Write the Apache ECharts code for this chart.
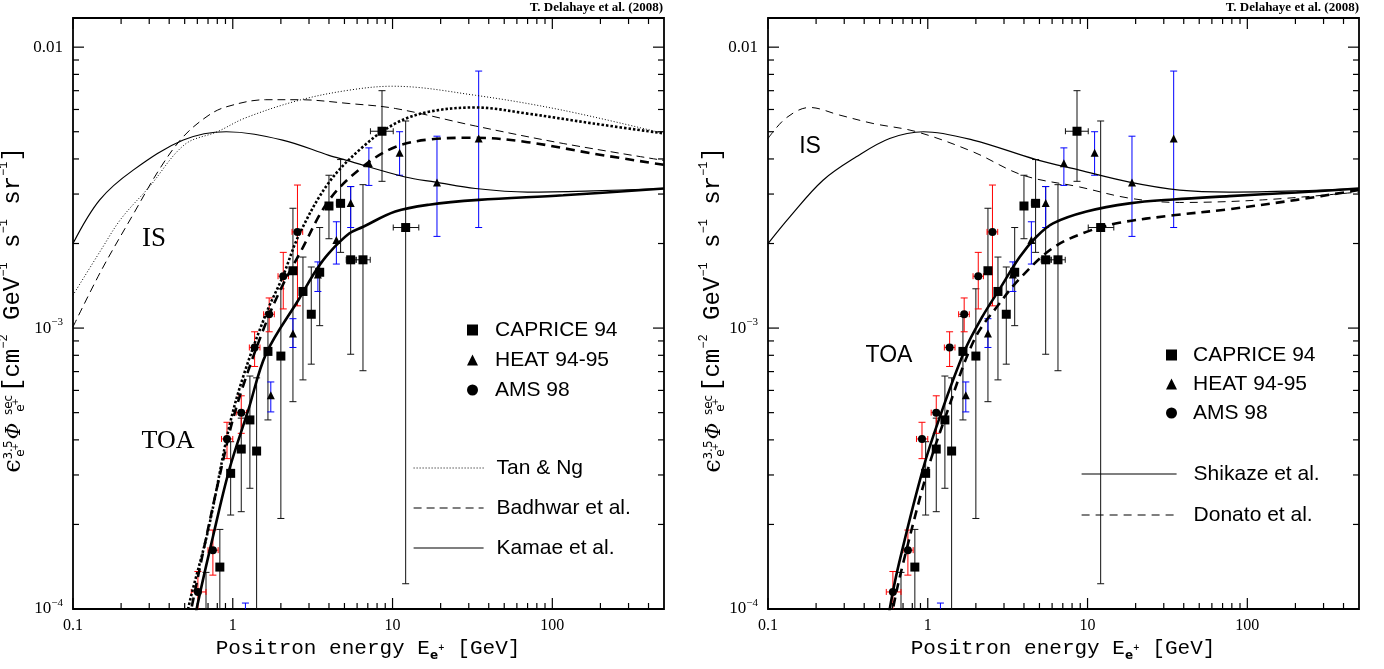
<!DOCTYPE html>
<html><head><meta charset="utf-8">
<script src="https://cdn.jsdelivr.net/npm/echarts@6/dist/echarts.min.js"></script>
<style>html,body{margin:0;padding:0;background:#fff}#c{width:1384px;height:669px}</style>
</head><body><div id="c"></div>
<script>
// ---------- axes / ticks ----------
const xMajorTicks = [0.1, 1, 10, 100];
const xMinorTicks = [0.2,0.3,0.4,0.5,0.6,0.7,0.8,0.9,2,3,4,5,6,7,8,9,20,30,40,50,60,70,80,90,200,300,400];
const yMajorTicks = [1e-4, 1e-3, 1e-2];
const yMinorTicks = [2e-4,3e-4,4e-4,5e-4,6e-4,7e-4,8e-4,9e-4,2e-3,3e-3,4e-3,5e-3,6e-3,7e-3,8e-3,9e-3];
const xTickLabels = {'-1':'0.1','0':'1','1':'10','2':'100'};
const yTickLabels = {'-4':'10{s|\u22124}','-3':'10{s|\u22123}','-2':'0.01'};

// ---------- data: [E, flux, fluxLow, fluxHigh, Elow, Ehigh] ----------
const caprice94 = [
  [0.68, 0.8e-4, 0.5e-4, 1.35e-4, 0.68, 0.68],
  [0.83, 1.41e-4, 0.8e-4, 1.92e-4, 0.80, 0.875],
  [0.97, 3.04e-4, 2.16e-4, 3.94e-4, 0.935, 1.02],
  [1.13, 3.71e-4, 2.22e-4, 4.78e-4, 1.10, 1.16],
  [1.28, 4.71e-4, 2.69e-4, 6.75e-4, 1.25, 1.32],
  [1.41, 3.65e-4, 0.5e-4, 6.65e-4, 1.41, 1.41],
  [1.66, 8.26e-4, 4.71e-4, 1.10e-3, 1.60, 1.72],
  [2.0, 7.95e-4, 2.10e-4, 1.38e-3, 1.92, 2.10],
  [2.38, 1.60e-3, 5.47e-4, 2.67e-3, 2.30, 2.46],
  [2.75, 1.35e-3, 6.54e-4, 1.79e-3, 2.66, 2.85],
  [3.10, 1.12e-3, 7.44e-4, 1.65e-3, 3.0, 3.2],
  [3.50, 1.58e-3, 1.02e-3, 2.28e-3, 3.4, 3.62],
  [4.0, 2.72e-3, 2.08e-3, 3.50e-3, 3.85, 4.15],
  [4.73, 2.78e-3, 1.86e-3, 3.98e-3, 4.45, 5.0],
  [5.47, 1.75e-3, 8.07e-4, 3.19e-3, 5.13, 5.93],
  [6.53, 1.75e-3, 7.05e-4, 3.24e-3, 5.9, 7.25],
  [8.59, 5.02e-3, 3.33e-3, 7.0e-3, 7.27, 10.1],
  [12.08, 2.28e-3, 1.23e-4, 5.46e-3, 10.1, 14.6]
];
const heat9495 = [
  [1.2, 0.8e-4, 0.6e-4, 1.05e-4, 1.2, 1.2],
  [1.73, 5.77e-4, 5.03e-4, 6.43e-4, 1.73, 1.73],
  [2.38, 9.57e-4, 8.53e-4, 1.08e-3, 2.38, 2.38],
  [3.41, 1.55e-3, 1.35e-3, 1.72e-3, 3.41, 3.41],
  [4.45, 2.06e-3, 1.69e-3, 2.39e-3, 4.45, 4.45],
  [5.47, 2.79e-3, 2.28e-3, 3.19e-3, 5.47, 5.47],
  [7.11, 3.86e-3, 3.22e-3, 4.38e-3, 7.11, 7.11],
  [11.07, 4.21e-3, 3.5e-3, 5.0e-3, 11.07, 11.07],
  [18.97, 3.30e-3, 2.12e-3, 4.82e-3, 18.97, 18.97],
  [34.6, 4.73e-3, 2.28e-3, 8.22e-3, 34.6, 34.6]
];
const ams98 = [
  [0.605, 1.15e-4, 0.85e-4, 1.36e-4, 0.55, 0.68],
  [0.751, 1.62e-4, 1.32e-4, 1.91e-4, 0.70, 0.81],
  [0.92, 4.03e-4, 3.43e-4, 4.62e-4, 0.85, 1.0],
  [1.13, 5.0e-4, 4.22e-4, 5.74e-4, 1.05, 1.22],
  [1.37, 8.53e-4, 7.3e-4, 9.7e-4, 1.27, 1.48],
  [1.69, 1.12e-3, 9.7e-4, 1.28e-3, 1.56, 1.82],
  [2.07, 1.53e-3, 1.17e-3, 1.86e-3, 1.92, 2.23],
  [2.54, 2.20e-3, 1.2e-3, 3.23e-3, 2.35, 2.74]
];

// ---------- model curves: [E, flux] ----------
const tanNgIS = [[0.1,1.31e-3],[0.15,1.9e-3],[0.2,2.45e-3],[0.3,3.18e-3],[0.5,4.5e-3],[0.8,5.0e-3],[1.2,5.6e-3],[2.6,6.47e-3],[5.35,7.03e-3],[10,7.26e-3],[33,6.74e-3],[115,5.97e-3],[500,4.93e-3]];
const badhwarIS = [[0.1,1.01e-3],[0.15,1.6e-3],[0.24,2.56e-3],[0.35,3.7e-3],[0.49,4.8e-3],[0.7,5.7e-3],[0.91,6.13e-3],[1.6,6.5e-3],[2.6,6.5e-3],[5.35,6.3e-3],[10.4,6.05e-3],[33,5.24e-3],[117,4.54e-3],[500,3.95e-3]];
const kamaeIS = [[0.1,2.0e-3],[0.147,2.86e-3],[0.238,3.65e-3],[0.49,4.67e-3],[0.91,5.0e-3],[2.05,4.67e-3],[4.0,4.12e-3],[5.1,3.96e-3],[12,3.45e-3],[18.6,3.31e-3],[33,3.14e-3],[70,3.05e-3],[180,3.08e-3],[500,3.14e-3]];
const tanNgTOA = [[0.50,8e-5],[0.525,1e-4],[0.7,1.9e-4],[0.95,4.45e-4],[1.18,6.9e-4],[1.62,1.13e-3],[2.05,1.52e-3],[2.62,2.17e-3],[4.0,3.3e-3],[6.5,4.41e-3],[10.4,5.35e-3],[16.9,5.89e-3],[33,6.1e-3],[70,5.8e-3],[180,5.35e-3],[500,4.93e-3]];
const badhwarTOA = [[0.52,8e-5],[0.55,1e-4],[0.95,4.2e-4],[1.18,6.4e-4],[1.62,1.05e-3],[2.05,1.42e-3],[2.62,1.84e-3],[4.0,2.85e-3],[6.5,3.75e-3],[10.4,4.41e-3],[16.9,4.69e-3],[33,4.76e-3],[70,4.59e-3],[180,4.18e-3],[500,3.81e-3]];
const kamaeTOA = [[0.56,8e-5],[0.594,1e-4],[0.75,1.8e-4],[0.95,3.13e-4],[1.25,5.1e-4],[1.62,8.13e-4],[2.62,1.28e-3],[3.33,1.61e-3],[4.0,1.85e-3],[5.35,2.17e-3],[6.5,2.29e-3],[10.4,2.6e-3],[16.9,2.75e-3],[34.6,2.86e-3],[117,2.97e-3],[500,3.14e-3]];
const shikazeIS = [[0.1,2.0e-3],[0.137,2.49e-3],[0.221,3.36e-3],[0.357,4.07e-3],[0.577,4.73e-3],[0.94,5.0e-3],[1.92,4.67e-3],[4.77,3.98e-3],[8.9,3.65e-3],[18.3,3.31e-3],[37.7,3.10e-3],[77,3.05e-3],[203,3.08e-3],[500,3.14e-3]];
const donatoIS = [[0.1,4.73e-3],[0.13,5.6e-3],[0.182,6.1e-3],[0.281,5.73e-3],[0.454,5.35e-3],[0.85,5.0e-3],[1.92,4.24e-3],[3.94,3.5e-3],[8.9,3.18e-3],[18.3,2.9e-3],[37.7,2.80e-3],[125,2.86e-3],[500,3.05e-3]];
const shikazeTOA = [[0.55,8e-5],[0.578,1e-4],[0.66,1.45e-4],[0.93,3.13e-4],[1.19,4.83e-4],[1.7,8.3e-4],[2.2,1.1e-3],[2.8,1.37e-3],[3.76,1.79e-3],[4.77,2.11e-3],[6.08,2.36e-3],[9.85,2.6e-3],[18.3,2.78e-3],[34.4,2.87e-3],[77,2.95e-3],[203,3.04e-3],[500,3.14e-3]];
const donatoTOA = [[0.57,8e-5],[0.605,1e-4],[0.70,1.45e-4],[1.0,3.13e-4],[1.29,4.83e-4],[1.96,9.12e-4],[2.8,1.22e-3],[3.76,1.5e-3],[6.08,1.93e-3],[9.85,2.2e-3],[15.8,2.37e-3],[34.4,2.52e-3],[77,2.65e-3],[203,2.86e-3],[500,3.1e-3]];

// ---------- helpers ----------
const tickRows = [].concat(
  xMinorTicks.map(v => [v, 1e-3, 0]), xMajorTicks.map(v => [v, 1e-3, 1]),
  yMinorTicks.map(v => [1, v, 2]), yMajorTicks.map(v => [1, v, 3]));

function tickRender(params, api) {
  const cs = params.coordSys, k = api.value(2);
  const len = (k === 1 || k === 3) ? 11 : 6;
  const st = {stroke: '#000', lineWidth: 1.2};
  if (k < 2) {
    const px = api.coord([api.value(0), 1e-3])[0];
    return {type: 'group', children: [
      {type: 'line', shape: {x1: px, y1: cs.y + cs.height, x2: px, y2: cs.y + cs.height - len}, style: st},
      {type: 'line', shape: {x1: px, y1: cs.y, x2: px, y2: cs.y + len}, style: st}]};
  }
  const py = api.coord([1, api.value(1)])[1];
  return {type: 'group', children: [
    {type: 'line', shape: {x1: cs.x, y1: py, x2: cs.x + len, y2: py}, style: st},
    {type: 'line', shape: {x1: cs.x + cs.width, y1: py, x2: cs.x + cs.width - len, y2: py}, style: st}]};
}

function errRender(color) {
  return function (params, api) {
    const E = api.value(0), F = api.value(1), lo = api.value(2), hi = api.value(3), el = api.value(4), eh = api.value(5);
    const pl = api.coord([E, lo]), ph = api.coord([E, hi]);
    const st = {stroke: color, lineWidth: 1};
    const c = [
      {type: 'line', shape: {x1: pl[0], y1: pl[1], x2: ph[0], y2: ph[1]}, style: st},
      {type: 'line', shape: {x1: pl[0] - 3.5, y1: pl[1], x2: pl[0] + 3.5, y2: pl[1]}, style: st},
      {type: 'line', shape: {x1: ph[0] - 3.5, y1: ph[1], x2: ph[0] + 3.5, y2: ph[1]}, style: st}];
    if (el !== eh) {
      const ql = api.coord([el, F]), qh = api.coord([eh, F]);
      c.push({type: 'line', shape: {x1: ql[0], y1: ql[1], x2: qh[0], y2: qh[1]}, style: st});
      c.push({type: 'line', shape: {x1: ql[0], y1: ql[1] - 3, x2: ql[0], y2: ql[1] + 3}, style: st});
      c.push({type: 'line', shape: {x1: qh[0], y1: qh[1] - 3, x2: qh[0], y2: qh[1] + 3}, style: st});
    }
    return {type: 'group', children: c};
  };
}

function lineSeries(name, data, gi, width, type, z) {
  return {type: 'line', name, data, xAxisIndex: gi, yAxisIndex: gi, symbol: 'none', showSymbol: false,
    smooth: 0.35, silent: true, z: z || 3, clip: true,
    lineStyle: {color: '#000', width, type, cap: 'butt'}, itemStyle: {color: '#000'}};
}

function dataSeries(gi) {
  const defs = [
    ['CAPRICE 94', caprice94, '#111', 'rect', 9],
    ['HEAT 94-95', heat9495, '#0000ff', 'triangle', 8],
    ['AMS 98', ams98, '#ff0000', 'circle', 8]];
  const out = [];
  defs.forEach(d => {
    out.push({type: 'custom', name: d[0] + ' error', xAxisIndex: gi, yAxisIndex: gi, clip: true, silent: true, z: 2,
      renderItem: errRender(d[2]), data: d[1], encode: {x: 0, y: 1}});
  });
  defs.forEach(d => {
    out.push({type: 'scatter', name: d[0], xAxisIndex: gi, yAxisIndex: gi, symbol: d[3], symbolSize: d[4], clip: true,
      silent: true, z: 5, itemStyle: {color: '#000', opacity: 1}, data: d[1].map(r => [r[0], r[1]])});
  });
  out.push({type: 'custom', name: 'ticks', xAxisIndex: gi, yAxisIndex: gi, silent: true, z: 6,
    renderItem: tickRender, data: tickRows, encode: {x: 0, y: 1}});
  return out;
}

function xAxisDef(gi) {
  return {gridIndex: gi, type: 'log', logBase: 10, min: 0.1, max: 500,
    axisLine: {show: false}, axisTick: {show: false}, splitLine: {show: false},
    axisLabel: {interval: 0, margin: 9, color: '#000', fontFamily: 'Liberation Serif', fontSize: 16,
      showMinLabel: true, showMaxLabel: true,
      formatter: v => { const e = Math.log10(v), r = Math.round(e); return Math.abs(e - r) < 1e-6 && xTickLabels[r] !== undefined ? xTickLabels[r] : ''; }}};
}
function yAxisDef(gi) {
  return {gridIndex: gi, type: 'log', logBase: 10, min: 1e-4, max: 0.0127,
    axisLine: {show: false}, axisTick: {show: false}, splitLine: {show: false},
    axisLabel: {interval: 0, margin: 10, color: '#000', fontFamily: 'Liberation Serif', fontSize: 17, lineHeight: 22,
      showMinLabel: true, showMaxLabel: true,
      rich: {s: {fontSize: 11, fontFamily: 'Liberation Serif', verticalAlign: 'top', color: '#000'}},
      formatter: v => { const e = Math.log10(v), r = Math.round(e); return Math.abs(e - r) < 1e-6 && yTickLabels[r] !== undefined ? yTickLabels[r] : ''; }}};
}

function yTitle(x0, y0) {
  const mono = 'Liberation Mono';
  const t = (text, lx, ly, size, opts) => Object.assign({type: 'text', x: lx, y: ly,
    style: Object.assign({text, fontSize: size, fontFamily: 'DejaVu Sans', fill: '#000', align: 'center', verticalAlign: 'middle'}, opts || {})});
  return {type: 'group', x: x0, y: y0, rotation: Math.PI / 2, silent: true, children: [
    t('\u03F5', 24, 14, 24, {fontFamily: 'DejaVu Serif'}),
    t('3.5', 40, 9, 12),
    t('e', 37, 21, 12),
    t('+', 43, 16, 9),
    t('\u03A6', 59, 15, 20, {fontFamily: 'DejaVu Serif', fontStyle: 'italic'}),
    t('sec', 85, 9, 12),
    t('e', 82, 21, 12),
    t('+', 88, 16, 9),
    {type: 'text', x: 98, y: 13, style: {text: '[cm{s|\u22122} GeV{s|\u22121} s{s|\u22121} sr{s|\u22121}]',
      fontSize: 24, fontFamily: mono, fill: '#000', align: 'left', verticalAlign: 'middle', lineHeight: 30,
      rich: {s: {fontSize: 12, fontFamily: mono, verticalAlign: 'top', fill: '#000'}}}}
  ]};
}
function xTitle(cx, cy) {
  return {type: 'text', x: cx, y: cy, silent: true, style: {
    text: 'Positron energy E{b|e}{c|+} [GeV]', fontSize: 21, fontFamily: 'Liberation Mono', fill: '#000',
    align: 'center', verticalAlign: 'middle', lineHeight: 28,
    rich: {b: {fontSize: 12, fontWeight: 'bold', fontFamily: 'DejaVu Sans', verticalAlign: 'bottom', fill: '#000'},
           c: {fontSize: 8, fontWeight: 'bold', fontFamily: 'DejaVu Sans', verticalAlign: 'middle', fill: '#000'}}}};
}
function plainText(text, x, y, size, family, extra) {
  return {type: 'text', x, y, silent: true, style: Object.assign({text, fontSize: size, fontFamily: family, fill: '#000',
    align: 'center', verticalAlign: 'middle'}, extra || {})};
}

const legendText = {fontFamily: 'Liberation Sans', fontSize: 21, color: '#000', lineHeight: 24};
const lineLegendItem = (name, type) => ({name, lineStyle: {color: '#000', width: 1.2, type}, itemStyle: {opacity: 0}});

const option = {
  animation: false,
  backgroundColor: '#fff',
  grid: [
    {left: 73, top: 18, width: 591, height: 591, show: true, borderColor: '#000', borderWidth: 1.8, backgroundColor: 'transparent'},
    {left: 768, top: 18, width: 591, height: 591, show: true, borderColor: '#000', borderWidth: 1.8, backgroundColor: 'transparent'}],
  xAxis: [xAxisDef(0), xAxisDef(1)],
  yAxis: [yAxisDef(0), yAxisDef(1)],
  legend: [
    {left: 467, top: 318, orient: 'vertical', padding: 0, itemGap: 6, itemWidth: 11, itemHeight: 11, selectedMode: false,
      textStyle: Object.assign({padding: [0, 0, 0, 12]}, legendText),
      data: [{name: 'CAPRICE 94', icon: 'rect'}, {name: 'HEAT 94-95', icon: 'triangle'}, {name: 'AMS 98', icon: 'circle'}]},
    {left: 413, top: 456, orient: 'vertical', padding: 0, itemGap: 16, itemWidth: 70, itemHeight: 14, selectedMode: false,
      textStyle: Object.assign({padding: [0, 0, 0, 8]}, legendText), itemStyle: {opacity: 0},
      data: [lineLegendItem('Tan & Ng', [1, 2]), lineLegendItem('Badhwar et al.', [8, 5]), lineLegendItem('Kamae et al.', 'solid')]},
    {left: 1166, top: 343, orient: 'vertical', padding: 0, itemGap: 5, itemWidth: 11, itemHeight: 11, selectedMode: false,
      textStyle: Object.assign({padding: [0, 0, 0, 11]}, legendText),
      data: [{name: 'CAPRICE 94', icon: 'rect'}, {name: 'HEAT 94-95', icon: 'triangle'}, {name: 'AMS 98', icon: 'circle'}]},
    {left: 1081, top: 462, orient: 'vertical', padding: 0, itemGap: 17, itemWidth: 95, itemHeight: 14, selectedMode: false,
      textStyle: Object.assign({padding: [0, 0, 0, 12]}, legendText), itemStyle: {opacity: 0},
      data: [lineLegendItem('Shikaze et al.', 'solid'), lineLegendItem('Donato et al.', [8, 6])]}
  ],
  graphic: [
    plainText('T. Delahaye et al. (2008)', 663, 8, 13, 'Liberation Serif', {align: 'right', fontWeight: 'bold'}),
    plainText('T. Delahaye et al. (2008)', 1359, 8, 13, 'Liberation Serif', {align: 'right', fontWeight: 'bold'}),
    plainText('IS', 154, 239, 27, 'Liberation Serif'),
    plainText('TOA', 168, 441, 26, 'Liberation Serif'),
    plainText('IS', 810, 147, 23, 'Liberation Sans'),
    plainText('TOA', 889, 356, 23, 'Liberation Sans'),
    yTitle(0, 490), yTitle(700, 490),
    xTitle(368, 648), xTitle(1063, 648)
  ],
  series: [
    lineSeries('Tan & Ng', tanNgIS, 0, 1, [1, 2]),
    lineSeries('Badhwar et al.', badhwarIS, 0, 1, [8, 5]),
    lineSeries('Kamae et al.', kamaeIS, 0, 1.2, 'solid'),
    lineSeries('Tan & Ng', tanNgTOA, 0, 2.6, [2.5, 2]),
    lineSeries('Badhwar et al.', badhwarTOA, 0, 2.6, [9, 6]),
    lineSeries('Kamae et al.', kamaeTOA, 0, 2.6, 'solid'),
    lineSeries('Shikaze et al.', shikazeIS, 1, 1.2, 'solid'),
    lineSeries('Donato et al.', donatoIS, 1, 1, [8, 6]),
    lineSeries('Shikaze et al.', shikazeTOA, 1, 2.6, 'solid'),
    lineSeries('Donato et al.', donatoTOA, 1, 2.6, [9, 6])
  ].concat(dataSeries(0), dataSeries(1))
};
const chart = echarts.init(document.getElementById('c'), null, {renderer: 'canvas'});
chart.setOption(option);
</script></body></html>
